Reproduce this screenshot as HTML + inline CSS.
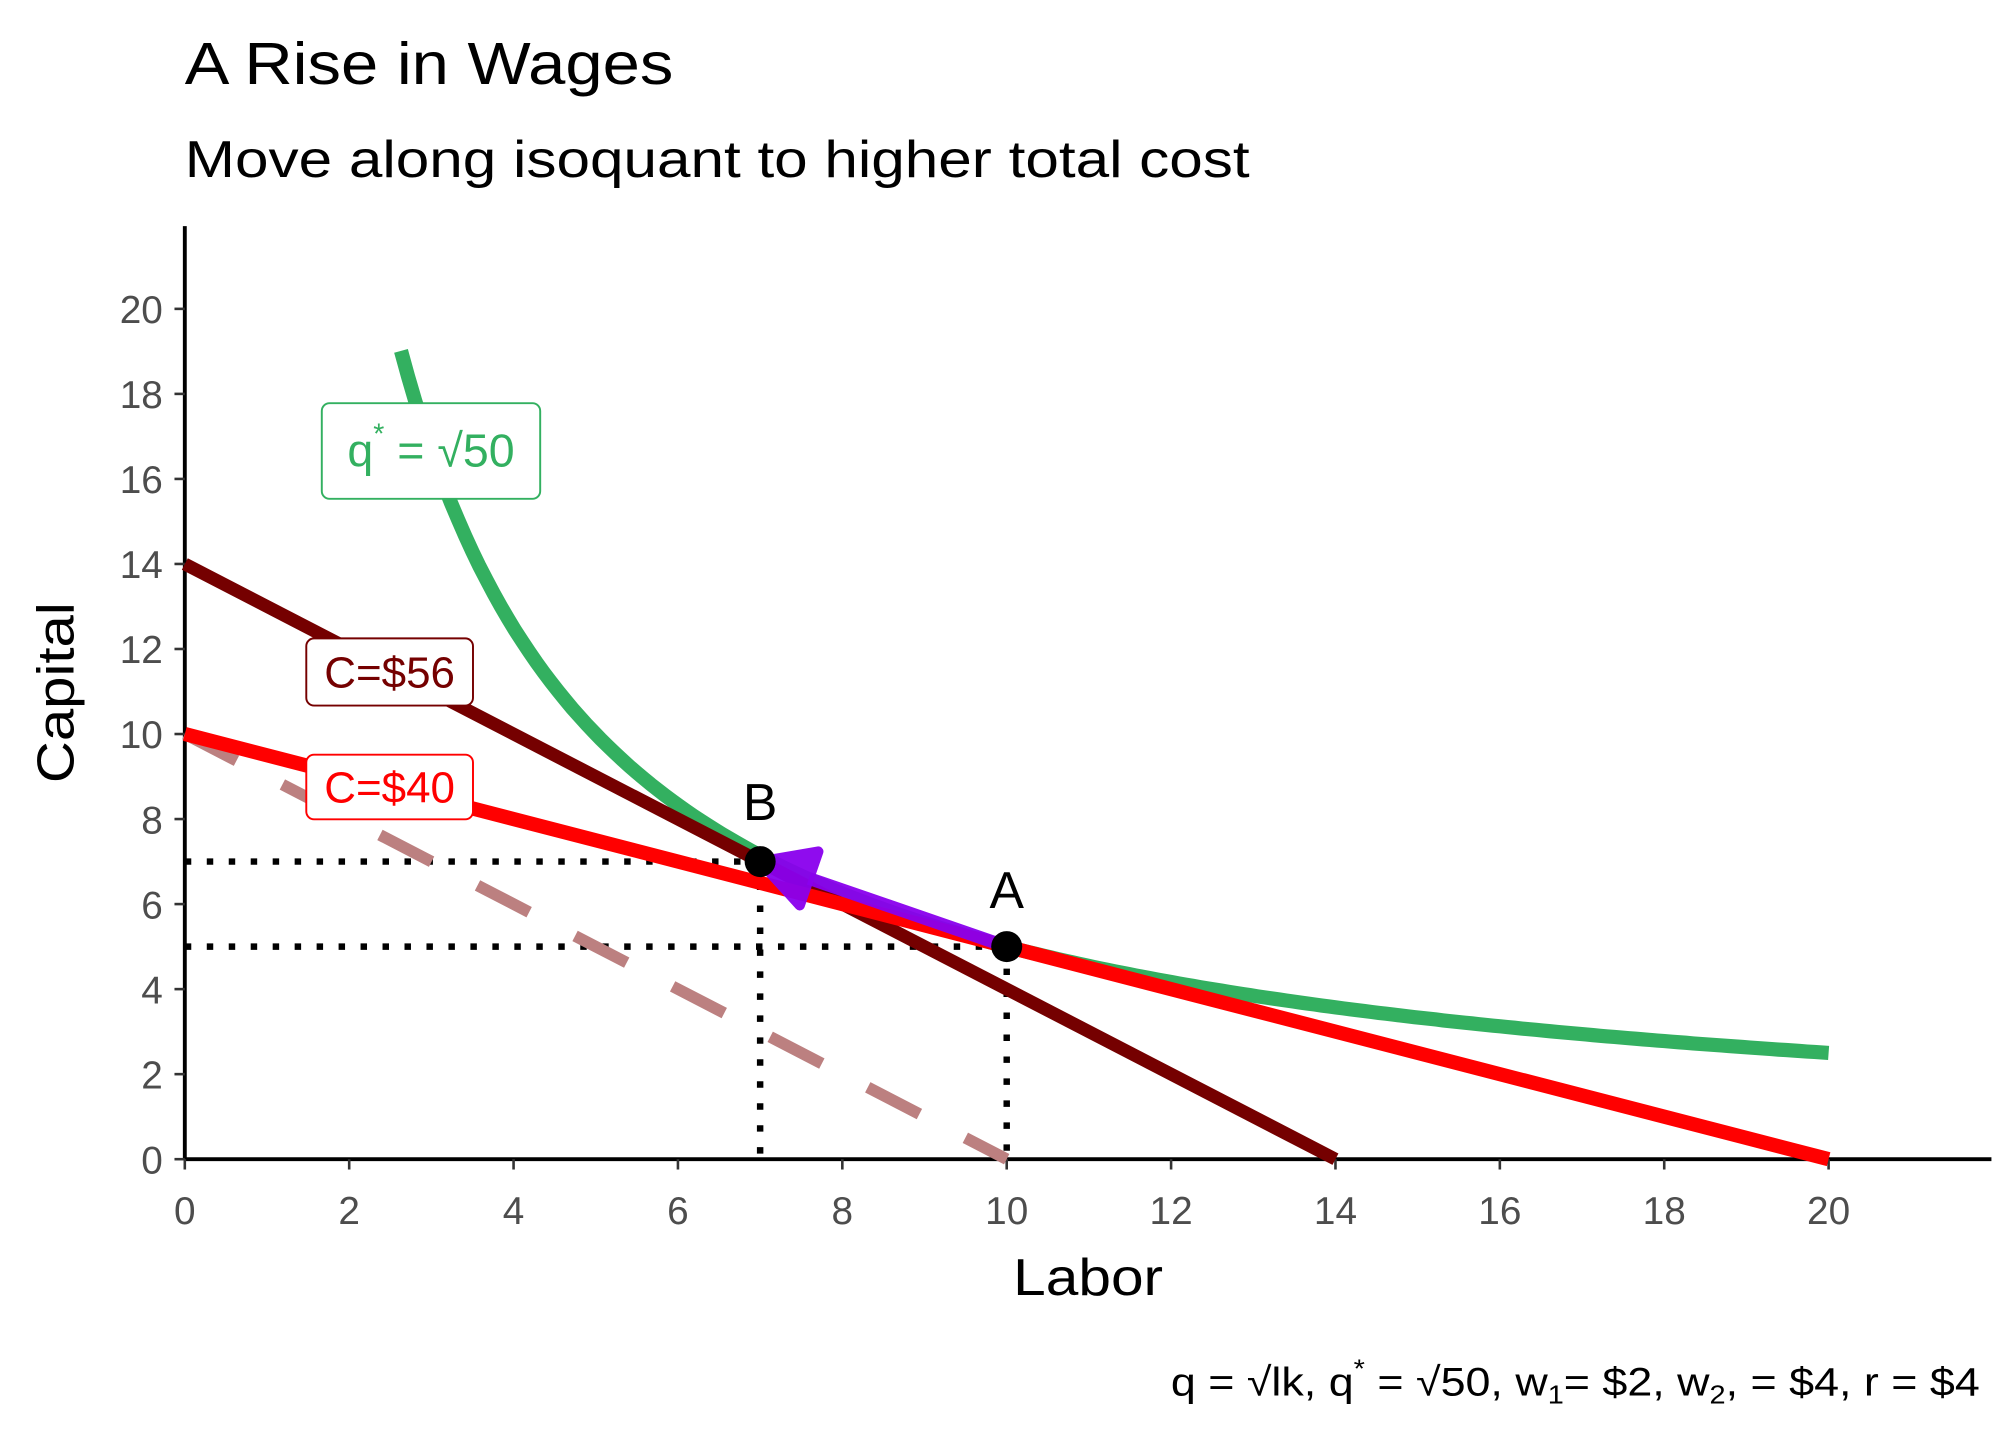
<!DOCTYPE html>
<html><head><meta charset="utf-8"><style>
html,body{margin:0;padding:0;background:#fff}
svg{display:block}
text{font-family:"Liberation Sans",sans-serif}
</style></head><body>
<svg id="chart" width="2016" height="1440" viewBox="0 0 1560 1114.3" xmlns="http://www.w3.org/2000/svg">
<text x="143" y="65" font-size="46" fill="#000" textLength="378" lengthAdjust="spacingAndGlyphs">A Rise in Wages</text>
<text x="143" y="137" font-size="40" fill="#000" textLength="824" lengthAdjust="spacingAndGlyphs">Move along isoquant to higher total cost</text>
<g id="plot"></g>
<text x="842" y="1002" font-size="40" text-anchor="middle" textLength="116" lengthAdjust="spacingAndGlyphs">Labor</text>
<text transform="translate(57,536) rotate(-90)" font-size="40" text-anchor="middle" textLength="140" lengthAdjust="spacingAndGlyphs">Capital</text>
<text x="1532" y="1080" font-size="31" text-anchor="end" textLength="626" lengthAdjust="spacingAndGlyphs">q = √lk, q<tspan font-size="20" dy="-14">*</tspan><tspan dy="14"> = √50, w</tspan><tspan font-size="20" dy="6">1</tspan><tspan dy="-6">= $2, w</tspan><tspan font-size="20" dy="6">2</tspan><tspan dy="-6">, = $4, r = $4</tspan></text>
</svg>
<script>
const xTicks=[0,2,4,6,8,10,12,14,16,18,20];
const yTicks=[0,2,4,6,8,10,12,14,16,18,20];
const budgetOld=[[0,10],[20,0]];
const budgetNew=[[0,14],[14,0]];
const budgetDashed=[[0,10],[10,0]];
const qStar=50;
const isoRange=[2.63,20];
const pointA=[10,5];
const pointB=[7,7];
const NS="http://www.w3.org/2000/svg";
const X=v=>143+v*(1415-143)/20;
const Y=v=>897-v*(897-239)/20;
const plot=document.getElementById('plot');
function mk(tag,attrs,parent){const e=document.createElementNS(NS,tag);for(const k in attrs)e.setAttribute(k,attrs[k]);(parent||plot).appendChild(e);return e;}
let ax=mk('line',{x1:143,y1:897,x2:1541,y2:897,stroke:'#000','stroke-width':3});


ax=mk('line',{x1:143,y1:897,x2:143,y2:175,stroke:'#000','stroke-width':3});


xTicks.forEach(t=>{
 let l=mk('line',{x1:X(t),y1:897,x2:X(t),y2:905,stroke:'#333','stroke-width':2});
 
 
 let tx=mk('text',{x:X(t),y:947,'font-size':30,'text-anchor':'middle',fill:'#4d4d4d'});
 tx.textContent=t;
 
 
});
yTicks.forEach(t=>{
 let l=mk('line',{x1:135,y1:Y(t),x2:143,y2:Y(t),stroke:'#333','stroke-width':2});
 
 
 let tx=mk('text',{x:126,y:Y(t)+11,'font-size':30,'text-anchor':'end',fill:'#4d4d4d'});
 tx.textContent=t;
 
 
});
[pointA,pointB].forEach(p=>{
 let d=mk('path',{d:`M${X(0)},${Y(p[1])}L${X(p[0])},${Y(p[1])}M${X(p[0])},${Y(p[1])}L${X(p[0])},${Y(0)}`,stroke:'#000','stroke-width':5,'stroke-dasharray':'5 12',fill:'none'});
 
 
});
function seg(pts,color,w,name,dash){
 let e=mk('line',{x1:X(pts[0][0]),y1:Y(pts[0][1]),x2:X(pts[1][0]),y2:Y(pts[1][1]),stroke:color,'stroke-width':w});
 if(dash)e.setAttribute('stroke-dasharray',dash);
 
 
}
seg(budgetDashed,'#BC8080',9,'budget-line-dashed','45 40');
let dp='';
for(let i=0;i<=200;i++){const l=isoRange[0]+(isoRange[1]-isoRange[0])*i/200;dp+=(i?'L':'M')+X(l).toFixed(1)+','+Y(qStar/l).toFixed(1);}
let iso=mk('path',{d:dp,stroke:'#33b060','stroke-width':11,fill:'none'});


seg(budgetNew,'#750000',10,'budget-line-56');
seg(budgetOld,'#ff0000',11,'budget-line-40');
const ax1=X(pointA[0]),ay1=Y(pointA[1]),ax2=X(pointB[0]),ay2=Y(pointB[1]);
const ang=Math.atan2(ay2-ay1,ax2-ax1),hl=40,hw=22;
const bx=ax2-Math.cos(ang)*hl,by=ay2-Math.sin(ang)*hl;
let ar=mk('line',{x1:ax1,y1:ay1,x2:bx,y2:by,stroke:'#8a00ee','stroke-width':10,opacity:0.95});


let ah=mk('polygon',{points:`${ax2},${ay2} ${bx+Math.sin(ang)*hw},${by-Math.cos(ang)*hw} ${bx-Math.sin(ang)*hw},${by+Math.cos(ang)*hw}`,fill:'#8a00ee',stroke:'#8a00ee','stroke-width':8,'stroke-linejoin':'round',opacity:0.95});


[[pointA,'A',-30],[pointB,'B',-32]].forEach(([p,lab,dy])=>{
 let c=mk('circle',{cx:X(p[0]),cy:Y(p[1]),r:12,fill:'#000'});
 
 
 let t=mk('text',{x:X(p[0]),y:Y(p[1])+dy,'font-size':40,'text-anchor':'middle',fill:'#000'});
 t.textContent=lab;
 
 
});
function box(x,y,w,h,color,name,text,fs){
 let r=mk('rect',{x:x,y:y,width:w,height:h,rx:6,fill:'#fff',stroke:color,'stroke-width':1.5});
 
 
 let t=mk('text',{x:x+w/2,y:y+h/2+12,'font-size':fs,'text-anchor':'middle',fill:color});
 t.innerHTML=text;
 
 
}
box(237,494,129,52,'#750000','label-c56','C=$56',34);
box(237,584,129,50,'#ff0000','label-c40','C=$40',34);
box(249,312,169,74,'#33b060','label-isoquant','q<tspan font-size="22" dy="-18">*</tspan><tspan dy="18"> = √50</tspan>',36);
</script>
</body></html>
